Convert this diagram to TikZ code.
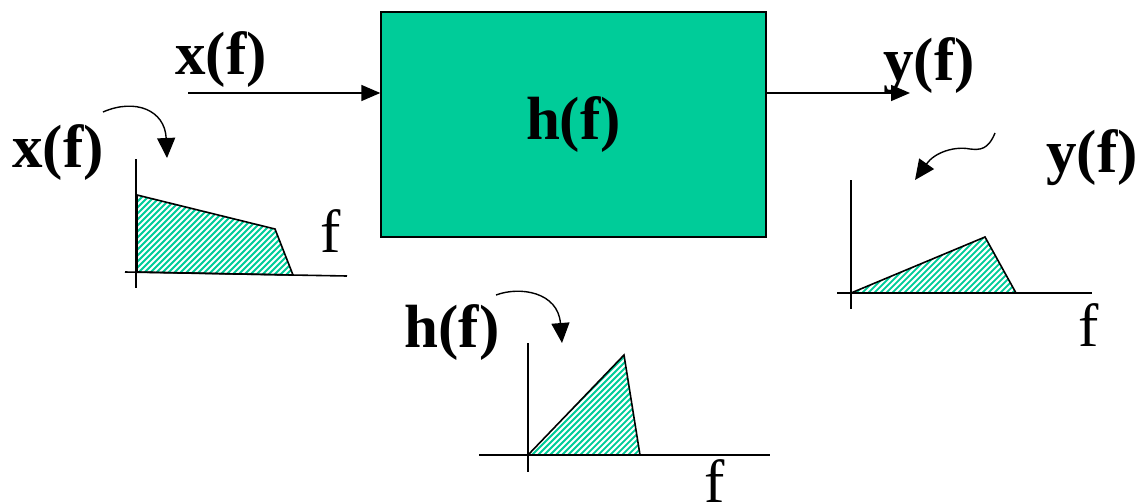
\documentclass[tikz,border=0pt]{standalone}
\usepackage{fontspec}
\setmainfont{Liberation Serif}
\usetikzlibrary{arrows.meta}
\definecolor{pgreen}{RGB}{0,204,153}
\tikzset{
  lbl/.style={font=\fontsize{61}{63}\selectfont\bfseries, inner sep=0pt},
  flbl/.style={font=\fontsize{61}{63}\selectfont, inner sep=0pt},
  axis/.style={line width=1.6pt},
  arr/.style={line width=1.6pt, -{Triangle[length=19pt,width=16pt]}},
  carr/.style={line width=1.4pt, -{Triangle[length=20pt,width=18pt]}},
  plotline/.style={line width=1.6pt, line join=miter},
}
\newcommand{\hatchfill}[1]{%
  \begin{scope}
    \clip #1;
    \fill[pgreen] (-10,-10) rectangle (1200,520);
    \foreach \k in {0,6,...,1700} {
      \draw[white, line width=2.1pt] (\k-520,520) -- (\k,0);
    }
  \end{scope}}
\begin{document}
\begin{tikzpicture}[x=1pt,y=-1pt]
\useasboundingbox (0,0) rectangle (1143,501);
% main block
\node[draw, line width=1.4pt, fill=pgreen, minimum width=385pt, minimum height=225pt, inner sep=0pt, lbl] (hbox) at (573.5,124.5) {\raisebox{8pt}{h(f)}};
\coordinate (xin) at (188,93);
\coordinate (yout) at (910,93);
\draw[arr] (xin) -- (hbox.west |- xin);
\draw[arr] (hbox.east |- yout) -- (yout);
\node[lbl] (xtop) at (221,60) {x(f)};
\node[lbl] (ytop) at (929,66) {y(f)};

% left plot: x(f)
\node[lbl] (xleft) at (58,153) {x(f)};
\node[flbl] (fx) at (331,231) {f};
\coordinate (xa0) at (125,272);
\coordinate (xa1) at (347,276);
\coordinate (xv0) at (136,159);
\coordinate (xv1) at (136,288);
\coordinate (xp1) at (137,272);
\coordinate (xp2) at (137,195);
\coordinate (xp3) at (275,229);
\coordinate (xp4) at (293,275);
\hatchfill{(xp1) -- (xp2) -- (xp3) -- (xp4) -- cycle}
\draw[plotline] (xp1) -- (xp2) -- (xp3) -- (xp4) -- cycle;
\draw[axis] (xa0) -- (xa1);
\draw[axis] (xv0) -- (xv1);
\coordinate (xc0) at (103,112);
\coordinate (xc1) at (167,158);
\draw[carr] (xc0) .. controls (135,98) and (165,110) .. (xc1);

% right plot: y(f)
\node[lbl] (yright) at (1092,158) {y(f)};
\node[flbl] (fy) at (1089,325) {f};
\coordinate (ya0) at (837,293);
\coordinate (ya1) at (1092,293);
\coordinate (yv0) at (851,180);
\coordinate (yv1) at (851,309);
\coordinate (yp1) at (851,293);
\coordinate (yp2) at (985,237);
\coordinate (yp3) at (1016,293);
\hatchfill{(yp1) -- (yp2) -- (yp3) -- cycle}
\draw[plotline] (yp1) -- (yp2) -- (yp3) -- cycle;
\draw[axis] (ya0) -- (ya1);
\draw[axis] (yv0) -- (yv1);
\coordinate (yc0) at (995,133);
\coordinate (ycm) at (970,149);
\coordinate (yc1) at (915,180);
\draw[carr] (yc0) .. controls (988,150) and (980,150) .. (ycm) .. controls (955,146) and (935,152) .. (yc1);

% bottom plot: h(f)
\node[lbl] (hbot) at (452,333) {h(f)};
\node[flbl] (fh) at (715,481) {f};
\coordinate (ha0) at (479,455);
\coordinate (ha1) at (770,455);
\coordinate (hv0) at (528,343);
\coordinate (hv1) at (528,472);
\coordinate (hp1) at (528,455);
\coordinate (hp2) at (624,355);
\coordinate (hp3) at (640,455);
\hatchfill{(hp1) -- (hp2) -- (hp3) -- cycle}
\draw[plotline] (hp1) -- (hp2) -- (hp3) -- cycle;
\draw[axis] (ha0) -- (ha1);
\draw[axis] (hv0) -- (hv1);
\coordinate (hc0) at (496,295);
\coordinate (hc1) at (562,343);
\draw[carr] (hc0) .. controls (520,286) and (558,292) .. (hc1);
\end{tikzpicture}
\end{document}
